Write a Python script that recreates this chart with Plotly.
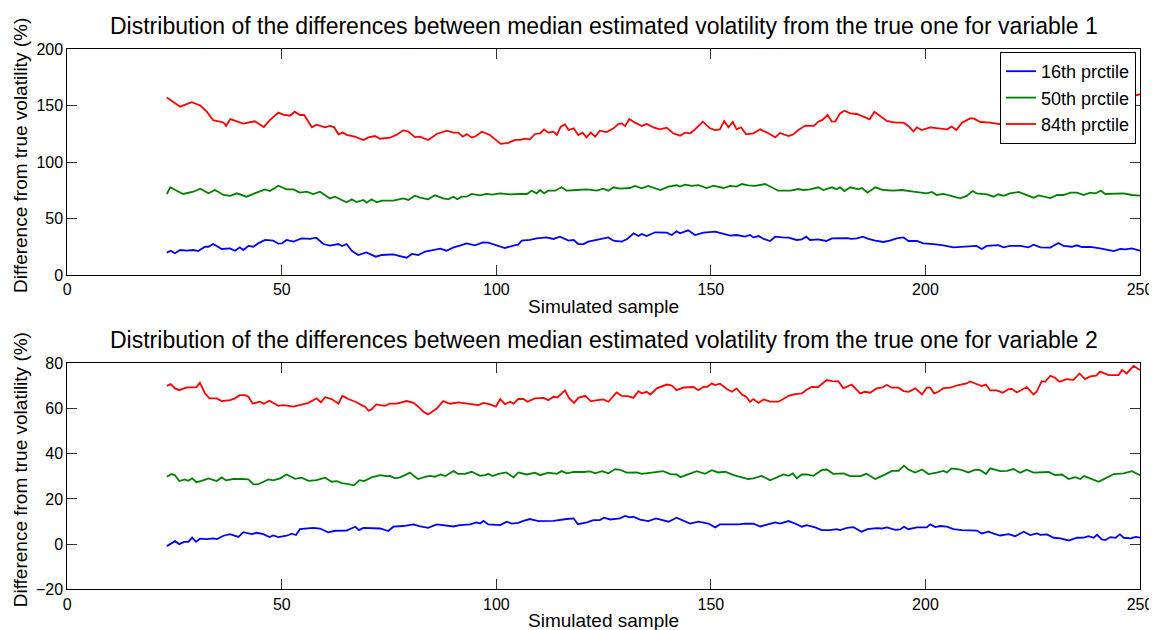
import plotly.graph_objects as go

# ---- data: (simulated sample, difference %) ----
V1_P16 = [(23.2,19.8),(24.1,21.5),(25.1,19.2),(26.3,22.1),(27.8,21.5),(29.4,22.1),(30.5,21.2),(32.1,25),(32.9,25),(34,27.4),(36,23),(37.9,23.6),(39.1,21.5),(40.2,24.5),(41,22.1),(42.2,25.7),(43.4,25),(44.5,28),(46.1,31),(48,30.4),(49.2,27.7),(50,28),(51.1,31),(52.7,29.5),(54.6,32.4),(56.6,31.9),(58,33),(59.7,27.4),(61.2,26),(63.2,27.4),(64,25.7),(65.1,27.4),(66.3,21.5),(67.8,17.7),(69.7,20),(71.9,16.2),(73.3,17.7),(76,18.3),(77.5,16.8),(79.1,15.3),(80.3,18.6),(81.8,17.7),(83.4,20.8),(85.3,22.1),(86.9,23.3),(88.4,21.5),(90,24.5),(91.5,26),(93.1,28),(95,26.3),(96.9,28.9),(98.1,28.6),(100,26.5),(102,23.9),(104.4,26.5),(105.1,26.8),(105.9,30.4),(107.8,31),(109.4,32.4),(111.7,33.3),(113.3,31.9),(114.8,33.9),(116.8,30.4),(118,31),(119.1,27.4),(120.3,27.4),(121.4,29.5),(124.1,31.6),(126.1,33.3),(127.3,30.4),(129.2,29.5),(130.4,31.6),(132,36.9),(133.1,34.5),(133.9,36.3),(135,34.5),(137,37.8),(139.7,37.5),(140.9,35.4),(142,38.6),(142.8,36.9),(144.7,39.5),(146.3,35.4),(148.3,37.5),(151,38.3),(152.5,36.9),(154.5,34.8),(156,35.4),(157.9,33.9),(159.1,35.4),(159.9,33.3),(161.1,34.5),(162.3,31.9),(163.8,30.1),(165,33.9),(166.6,33.3),(168.1,33),(170,31),(171.2,31.6),(172.2,33.9),(173.1,31),(175,31.6),(176.9,30.1),(178.2,32.4),(180.1,32.2),(181.7,32.7),(182.8,31.9),(184,32.4),(185.4,33.9),(186.7,31.9),(188.3,30.4),(190.2,29.2),(191.7,30.4),(193.3,32.4),(194.9,33.3),(196,30.1),(198,30.1),(199.5,28),(201.9,27.4),(204.2,26.3),(206.5,24.5),(208.8,25),(210.8,25.7),(211.9,25.7),(213.1,23),(214.3,25.7),(217,26.5),(218.2,24.5),(219.7,25.7),(222.1,25.7),(224,24.5),(225.2,26.8),(226.8,24.5),(229.1,24.2),(231,28.3),(232.2,25.7),(234.1,25),(235.3,26.3),(236.5,24.8),(238.4,24.8),(240.7,23.6),(242.3,22.1),(243.9,21.2),(245.4,23),(246.6,22.7),(248.1,23.6),(250,21.5)]

V1_P50 = [(23.2,71.7),(24,77.6),(25.5,74.6),(27,71.7),(29.4,73.7),(31,76.4),(32.9,72.3),(34.4,75.2),(36.4,70.8),(38,70),(39.5,72.3),(41.8,69.3),(44.1,72.9),(46.1,75.8),(47.2,74.3),(49.2,79),(51.1,75.8),(52.7,75.8),(54.2,72.9),(55.8,73.7),(57.3,71.7),(58.9,73.7),(61.2,67.8),(62.4,69.3),(63.6,67),(65.1,64.3),(66.3,67),(67.4,64.6),(69,66.4),(69.8,64),(70.9,67),(72.1,64.3),(73.3,65.8),(76,65.8),(78.3,67.8),(79.5,66.4),(81,70.2),(82.2,68.5),(84.1,67),(85.7,70.5),(87.6,67.8),(88.8,67),(90,69.3),(90.9,67),(91.9,69.3),(93.1,69.3),(94.2,71.7),(96.2,70.5),(97.8,71.7),(99,71.1),(100.9,72.3),(103.2,71.4),(105.5,71.7),(107.1,71.7),(108.2,74.6),(109.4,72.3),(110.2,75.2),(111.1,72.3),(112.1,74.6),(113.7,74.6),(115.2,77.6),(116.4,74.6),(118.7,75.2),(121,75.8),(123.4,74.6),(124.9,76.4),(126.1,74.6),(127.3,77.6),(128.8,76.4),(131.1,77),(132.3,78.8),(133.9,76.7),(135.4,78.8),(138.2,75.2),(140.1,78.2),(142,79.4),(142.8,78.2),(144,79.9),(145.5,78.8),(147.1,79.6),(149,77),(150.6,79),(152.9,77),(154.5,78.8),(156,78.2),(157.2,80.5),(158.7,79.4),(160.3,78.8),(162.6,80.5),(164.2,77.6),(165.7,74.6),(168.5,74.6),(170.4,76.1),(171.6,75.2),(173.1,75.8),(175,77.6),(176.2,75.2),(178.2,77.6),(179.3,75.8),(180.1,77.6),(181.1,74.3),(182.5,77.6),(184.4,75.8),(185.2,77),(186.5,72.9),(188.3,77.6),(190.2,75.2),(192.5,74.6),(194.5,75.2),(197.2,73.7),(200.3,72.3),(201.5,73.5),(202.6,70.8),(204.2,71.7),(205.7,70),(208.1,67.8),(209.6,70),(211,74.3),(211.9,72.3),(214.3,71.4),(215.9,69.3),(217,71.4),(218.2,70),(219.7,72.3),(221.7,73.5),(223.6,70.8),(225.2,68.4),(226.4,70.5),(227.9,69.3),(229.1,68.1),(230.7,70.8),(232.2,70.8),(233.8,72.9),(235.3,72.9),(236.9,70.8),(238.4,72.9),(239.6,72.3),(240.9,74.6),(241.9,71.7),(243.9,71.7),(246.2,72.3),(248.1,70.8),(250,70.2)]

V1_P84 = [(23.2,157),(26.3,149),(29,153),(31,150),(32.5,144.5),(34,137),(36.4,135),(37,132),(38,138),(41,134),(43.7,136),(45.8,131),(47.2,137),(49.2,143.7),(50.3,142),(51.9,141),(53,144.5),(54.2,141.6),(55.2,141.6),(57,130.7),(58.1,133),(60,130.7),(61.2,132),(62.2,130.7),(63.2,124.5),(64.2,126),(65.1,124),(67,122.4),(69,119.5),(70.2,121.8),(71.7,123),(72.9,120.6),(75.2,121.5),(76.8,124.2),(78.3,128),(79.5,127),(81,122),(82.2,122.4),(84.1,119.5),(86.1,124.8),(88.4,127.7),(90,126),(91.1,126),(92.2,122.4),(93.1,124.8),(94.2,121.8),(95,122.4),(96.6,126.8),(98.5,123.9),(99.9,119.5),(101,116),(102.8,117),(104.4,119.5),(105.5,119.5),(106.7,120.6),(107.8,120),(109,124.8),(110.2,125.4),(111.1,128.9),(112.1,126),(113.3,126.8),(114.1,123.9),(115,131.3),(116,133.3),(116.8,128.3),(118,129.8),(119.1,123.9),(120.1,126),(121,121.8),(122,126),(123,122.4),(124.1,127.7),(125.7,126.5),(127.3,129.8),(128.4,133.6),(129.2,134.2),(130,131.9),(131,138),(132.3,134.8),(133.9,131.9),(135,133.6),(136.6,130.7),(138.1,128.9),(139.7,130.4),(141.2,125.4),(142.8,123.3),(144,126),(145.2,125.4),(146.3,128.9),(148.1,135.7),(149.8,129.8),(151,128.3),(152.1,128.9),(153.1,136.3),(154.1,130.7),(155.1,135.4),(156,128.9),(157,130.7),(158.2,124.5),(159.9,125.4),(161.5,128.9),(163.4,125.4),(165,121.8),(166.1,125.7),(168.1,123),(169.2,124.5),(170.4,128.3),(172,132.2),(174,131.9),(175,135.7),(176,137.2),(177.2,141.6),(178.2,135.7),(179,136),(180.1,143),(181.1,145.4),(182.5,143),(184,142.5),(185.7,139.5),(187,137.8),(188.1,144.5),(189.5,140.7),(191,136.3),(193,134.8),(194.9,134.8),(196,131.9),(197.2,127.1),(198,130.7),(199.1,128.3),(201.1,130.7),(203,129.8),(205,128.9),(206.1,131.3),(207.2,128.3),(208.5,134.8),(210.4,138.6),(211.2,138.6),(212.8,135.4),(215,134.8),(218,133),(222,136),(226,134),(230,138),(234,142),(238,148),(242,152),(246,156),(250,160)]

V2_P16 = [(23.2,-0.9),(25.1,1.3),(26.1,0),(27.2,1),(28.2,1),(29.1,2.9),(30,1),(30.9,2.4),(32.5,2.2),(34,2.5),(34.9,2.2),(36.4,3.7),(37.9,4.4),(39.9,3.2),(41,5.3),(43,4.4),(44.1,5),(45.7,4.4),(47.1,3.1),(48,3.8),(49.2,3.1),(51.1,3.7),(52.3,4.6),(53.3,4),(54.2,6.6),(55.8,6.9),(57.3,7.2),(58.9,6.9),(60.8,5.2),(62.4,5.9),(65.1,6),(67.1,7.7),(68,6.2),(69,7.2),(72.9,6.9),(74.8,5.8),(76,7.7),(78.3,8),(79.1,8.3),(80.7,8.7),(82,8),(84.1,7.2),(86.1,8.7),(88.1,8.4),(90,7.8),(91.5,8.4),(93.9,8.7),(95.4,9.6),(96.2,9.1),(97,10.3),(98.1,8.7),(100.9,8.4),(102.4,9.9),(103.6,9.1),(105.1,9.4),(106.3,10.3),(107.8,11.1),(109.8,10.2),(113.3,10.3),(116.4,11.1),(118,11.4),(119,8.8),(121.1,9.6),(122.6,10.6),(124.1,10.6),(125.1,11.7),(126.5,10.9),(128.8,11.4),(130,12.5),(131.1,11.8),(131.9,12.1),(133.5,10.8),(135.4,10.2),(137.2,11.4),(138.5,10.6),(140.1,9.9),(142,11.7),(143.6,10.3),(145.1,9.1),(147.1,9.9),(149.4,9.1),(151,7.4),(152.1,8.7),(154.1,8.7),(156.4,8.7),(157.9,9.1),(159.9,9),(161.5,7.8),(163.4,8.7),(165,9.6),(166.1,9.1),(168.1,10.2),(169.6,9.1),(171.2,7.7),(172.3,8.4),(174.3,7.4),(175.8,6.2),(177.8,6.2),(179.3,6.6),(180.1,6.2),(181.7,7.2),(183.2,7.5),(185.1,5.5),(186.5,6.6),(188.6,7.1),(189.8,6.9),(191,7.4),(193,6.3),(194.1,6.5),(195,7.7),(196,6.6),(198,7.4),(200.3,7.4),(201.1,8.7),(202.3,7.5),(203.4,8),(205,7.7),(206.5,6.6),(208.5,6.2),(212,6),(213.1,4.7),(214.7,5.5),(215.9,4.6),(217.4,3.8),(219.4,4.4),(220.9,3.5),(222.9,5.5),(224.4,4),(226,4.7),(226.8,4.1),(228.3,4.3),(229.9,2.8),(231.4,2.5),(233.4,1.6),(235.3,2.8),(236.9,2.9),(238,3.5),(239.2,2.8),(240,4.1),(241.1,2.1),(241.9,1.8),(243.1,3.1),(244.3,2.8),(245.3,4.3),(246.2,2.8),(247.8,2.5),(249,3.2),(250,2.9)]

V2_P50 = [(23.2,29.8),(24.3,31),(25.1,30.5),(26.1,27.9),(27.4,28.6),(28.2,28),(29.1,29.1),(30.1,27.4),(31.3,28),(32.9,29.1),(34.8,27.9),(36,29.5),(37,28.2),(38.7,28.8),(40.6,28.8),(42.2,28.6),(43.4,26.4),(44.5,26.5),(46.9,28.6),(48,28.2),(49.6,29.1),(51.1,30.8),(53.1,28.9),(54.6,29.4),(56.2,28),(58.1,28.3),(60.1,29.4),(61.6,27.6),(62.8,27.9),(64,27),(65.5,26.5),(66.8,26),(68.1,28.3),(69.2,27.9),(70.9,29.5),(72.9,30.5),(74.4,30.1),(75.2,30.2),(76.4,29.1),(77.5,29.5),(78.3,30.2),(79.9,31.6),(80.7,30.2),(81.8,28.8),(83.4,29.8),(84.5,30.2),(85.7,29.8),(87,30.8),(88.1,30.1),(90,32.3),(91.1,31.1),(92.7,31.1),(94.2,32),(96.2,30.2),(97.4,30.5),(98.1,31.1),(99.1,30.1),(100.5,31.1),(102.3,31.7),(104,29.5),(105.1,31.7),(107.1,30.8),(109,31.6),(110.2,30.5),(112.1,31.6),(114.1,31.1),(115.2,32.3),(116.4,31.3),(118,32),(120.3,31.9),(121.9,32.2),(123,31.3),(124.6,32.3),(126.1,31.3),(127.7,33.2),(128.8,32.9),(130.4,31.6),(132.7,31.7),(133.9,31.1),(136.2,31.7),(138.9,32.3),(140.5,31),(142,30.8),(142.9,29.6),(144.4,30.8),(146.7,32.3),(148.6,31.1),(150.2,32.7),(151.7,31.7),(153.3,32),(155.3,30.5),(156.8,29.8),(158.7,28.8),(159.9,29.1),(161.8,30.2),(163.8,28.2),(165.3,29.6),(166.9,30.8),(168.1,30.2),(169.1,31.3),(170,29.1),(171.2,30.8),(172.3,30.8),(173.9,30.2),(175.8,32.7),(177,33),(178.5,31.1),(180.9,31.3),(182.4,30.1),(184.8,30.1),(186.2,31.1),(188.3,28.8),(190.3,30.5),(192.2,32.4),(193.7,32.4),(195,34.7),(196,33),(197.6,31.7),(199.2,33),(200.7,31),(202.6,31.6),(204.2,32.4),(205,31.7),(206.1,33.5),(208.1,33),(210,31.7),(211.6,32.9),(212.8,32.7),(214.1,31),(215.1,33.5),(217.4,32.3),(219,32.4),(220.5,33.2),(222.1,31.6),(223.6,32.9),(225.2,31.6),(228.7,31.9),(230.2,30.5),(231.8,30.8),(233.4,28.8),(234.9,29.6),(236.1,28.8),(237,30.1),(238.4,29.1),(240.4,27.6),(241.9,29.1),(243.9,31),(246.2,31.3),(248.1,32.3),(250,30.5)]

V2_P84 = [(23.2,70),(24.1,70.8),(25.1,68.9),(26.1,68.1),(27.8,69.3),(29.4,69.6),(30.1,69.5),(30.9,71.4),(32.1,66.7),(33.1,64.5),(34.8,64.5),(36,63.3),(37.9,63.7),(39.1,64.5),(40.2,65.9),(41.4,65.9),(42.2,65.2),(43.2,62.2),(44.9,63),(45.8,62.1),(47.1,63.4),(49.2,61.2),(50.3,61.5),(52.7,60.8),(54.2,61.5),(56.2,62.5),(58.1,64.5),(59.1,62.7),(60.1,65),(61.6,64.2),(63.2,62.1),(64.1,65.6),(65.5,64.2),(67.1,63),(68.6,61.5),(69.4,60.8),(70.2,59),(70.9,59.6),(72,61.8),(73.3,61.2),(74,61.2),(75.2,62.2),(76.8,62.2),(79.1,63.3),(80.7,62.5),(81.8,60.8),(83,58.6),(84.1,57.4),(86.1,60),(87.6,63.3),(89.2,62.1),(91.1,62.7),(93.1,62.2),(95.8,61.5),(97,62.5),(98.5,61.8),(99.9,60.8),(100.9,64.2),(102,61.9),(103.2,63),(104,62.2),(105.1,64.2),(106.3,64.2),(107.2,63),(109,64.5),(111,64.7),(112.1,63.7),(113.3,65.2),(114.2,64.9),(116,68),(117,64.5),(118.1,62.5),(119.1,64.7),(120.7,65.6),(122,63.3),(123.4,63.7),(124.9,64),(126.1,63),(128,67.1),(129.2,65.6),(130.7,65.5),(131.9,64.7),(133.1,67.7),(133.9,66.7),(135,67.4),(135.9,66.2),(137.4,68.9),(139.7,70.6),(140.9,70.1),(142,68.1),(143.7,69.3),(145.9,69.5),(147.1,68.1),(148.3,69.6),(149.2,69.6),(150.2,71.1),(151,70.4),(152.1,71),(153.7,68.6),(154.9,67.4),(156,68.9),(157.2,66.2),(158.2,65.2),(159.1,63),(159.9,64.2),(161.1,62.5),(162.3,64),(163.8,63),(165.7,63),(166.9,64.2),(168.1,65.6),(169.6,66.4),(171.2,66.7),(172.3,68.3),(173.5,69.6),(175,69.5),(177,72.6),(178.2,72.1),(179.7,72),(180.9,68.9),(182.8,70.6),(184.8,66.7),(185.9,67.4),(187.1,67),(188.6,68.9),(189.8,69.2),(191,70.4),(192.2,69.2),(193.7,69.2),(194.9,67.7),(196.1,67.4),(197.6,68.9),(199.2,66.2),(200.3,69.2),(201.1,69.2),(202,66.7),(203,67.4),(204.2,69),(205.8,69.2),(207.7,70.4),(209.6,71.1),(210.4,72),(212,70.6),(213.1,69.9),(214.1,70.6),(215.1,68),(216.6,68),(218,67),(219.4,68.6),(220.1,68.7),(221.3,67.1),(223.6,69.5),(225.2,66.2),(225.9,67.4),(227.1,72.1),(227.9,71.8),(229.1,74.5),(230.2,73.6),(231.2,71.8),(232.9,73),(234.5,72.7),(235.9,75.5),(237.2,73),(238.4,74.2),(239.8,74.5),(240.7,76.3),(242.7,74.8),(245,74.8),(245.8,77),(246.9,75.5),(248.5,78.8),(250,77)]

SERIES_NAMES = ["16th prctile", "50th prctile", "84th prctile"]
COLORS = ["#0000FF", "#008000", "#FF0000"]
TITLES = ["Distribution of the differences between median estimated volatility from the true one for variable 1",
          "Distribution of the differences between median estimated volatility from the true one for variable 2"]
X_LABEL = "Simulated sample"
Y_LABEL = "Difference from true volatility (%)"
X_TICKS = [0, 50, 100, 150, 200, 250]
Y1_TICKS = [0, 50, 100, 150, 200]
Y2_TICKS = [-20, 0, 20, 40, 60, 80]

# the page body has an 8px default margin; positions below are given in window pixels
OFF = 8
W, H = 1157, 630
FONT = "Liberation Sans, Arial, Helvetica, sans-serif"

def sx(px):  # window x pixel -> paper fraction
    return (px - OFF) / W

def sy(py):  # window y pixel -> paper fraction
    return 1 - (py - OFF) / H

fig = go.Figure()
for panel, group in enumerate([(V1_P16, V1_P50, V1_P84), (V2_P16, V2_P50, V2_P84)]):
    for i, pts in enumerate(group):
        xs = [p[0] for p in pts]
        ys = [p[1] for p in pts]
        fig.add_trace(go.Scatter(
            x=xs, y=ys, mode="lines", name=SERIES_NAMES[i],
            line=dict(color=COLORS[i], width=1.8),
            xaxis="x" if panel == 0 else "x2",
            yaxis="y" if panel == 0 else "y2",
            showlegend=(panel == 0),
        ))

xdom = [sx(67.3), sx(1140)]
top_px = (49, 275)
bot_px = (363.3, 589.3)

def ydom(px):
    return [sy(px[1]), sy(px[0])]

axis_common = dict(
    showline=True, linecolor="black", linewidth=1, mirror="ticks",
    ticks="inside", ticklen=10, tickwidth=1, tickcolor="#333333",
    showgrid=False, zeroline=False, automargin=False,
    tickfont=dict(family=FONT, size=16, color="black"),
)

fig.update_layout(
    width=W, height=H,
    margin=dict(l=0, r=0, t=0, b=0),
    paper_bgcolor="white", plot_bgcolor="white",
    font=dict(family=FONT, color="black"),
    xaxis=dict(domain=xdom, range=[0, 250], tickvals=X_TICKS, anchor="y", **axis_common),
    yaxis=dict(domain=ydom(top_px), range=[0, 200], tickvals=Y1_TICKS, anchor="x", **axis_common),
    xaxis2=dict(domain=xdom, range=[0, 250], tickvals=X_TICKS, anchor="y2", **axis_common),
    yaxis2=dict(domain=ydom(bot_px), range=[-20, 80], tickvals=Y2_TICKS, anchor="x2", **axis_common),
    legend=dict(
        x=sx(1136), xanchor="right", y=sy(52), yanchor="top",
        bgcolor="white", bordercolor="black", borderwidth=1,
        font=dict(family=FONT, size=18, color="black"),
        itemwidth=30, tracegroupgap=0,
    ),
    showlegend=True,
)

xc = (xdom[0] + xdom[1]) / 2
ann = []
for k, px in enumerate([top_px, bot_px]):
    ann.append(dict(text=TITLES[k], xref="paper", yref="paper", x=xc, y=sy(px[0] - 23),
                    xanchor="center", yanchor="middle", showarrow=False,
                    font=dict(family=FONT, size=23, color="black")))
    ann.append(dict(text=X_LABEL, xref="paper", yref="paper", x=xc, y=sy(px[1] + 31),
                    xanchor="center", yanchor="middle", showarrow=False,
                    font=dict(family=FONT, size=19, color="black")))
    ann.append(dict(text=Y_LABEL, xref="paper", yref="paper", x=sx(20), y=sy((px[0] + px[1]) / 2 - 6),
                    xanchor="center", yanchor="middle", showarrow=False, textangle=-90,
                    font=dict(family=FONT, size=19, color="black")))
fig.update_layout(annotations=ann)

fig.write_html("out.html")
